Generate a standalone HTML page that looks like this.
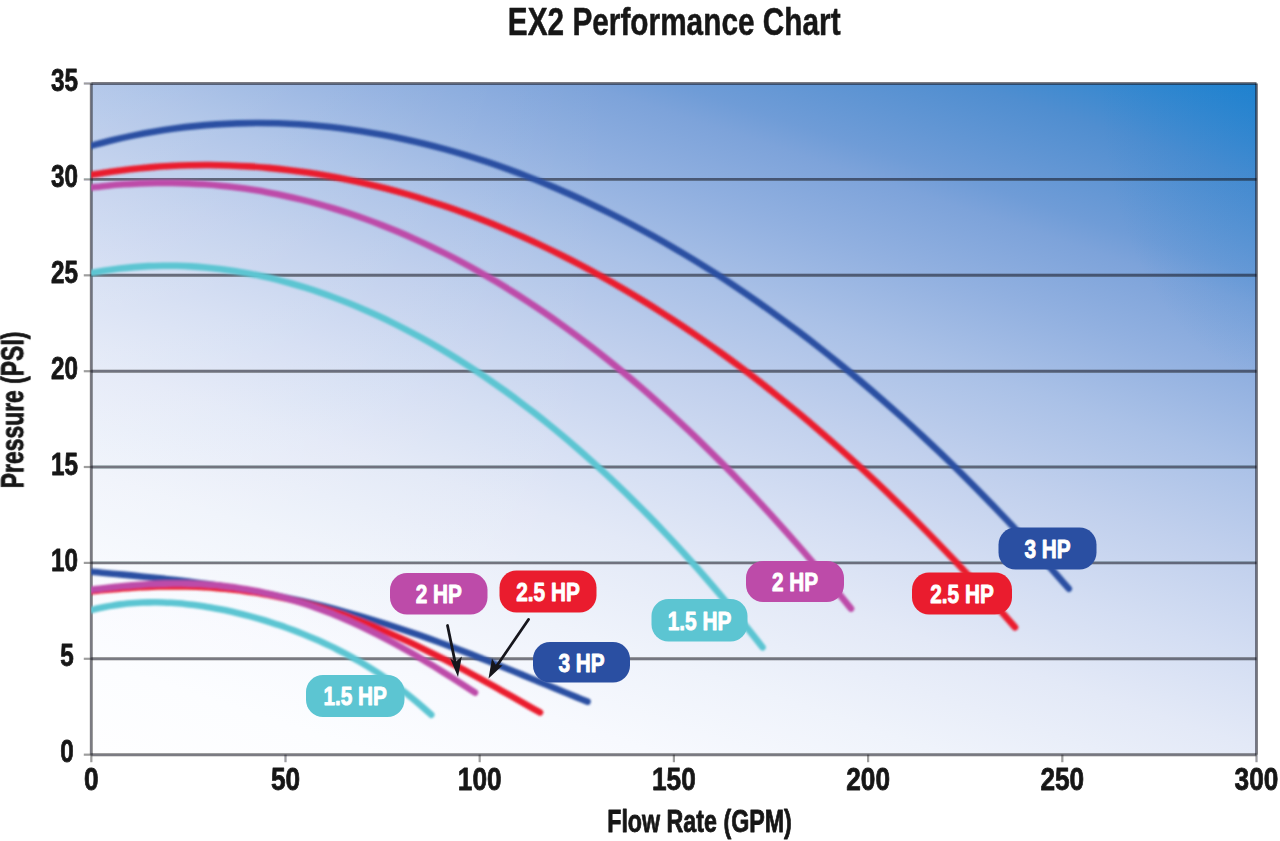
<!DOCTYPE html>
<html><head><meta charset="utf-8"><title>EX2 Performance Chart</title>
<style>html,body{margin:0;padding:0;background:#fff;}body{width:1280px;height:841px;overflow:hidden;font-family:"Liberation Sans",sans-serif;}svg{display:block;}text{font-family:"Liberation Sans",sans-serif;font-weight:bold;}</style></head><body>
<svg width="1280" height="841" viewBox="0 0 1280 841">
<defs>
<linearGradient id="gd" gradientUnits="userSpaceOnUse" x1="91.3" y1="754.7" x2="403.5" y2="-196.6"><stop offset="0.0000" stop-color="#fefeff"/><stop offset="0.0892" stop-color="#fcfdff"/><stop offset="0.1783" stop-color="#f7f9fe"/><stop offset="0.2675" stop-color="#eff3fb"/><stop offset="0.3694" stop-color="#e3e9f7"/><stop offset="0.4522" stop-color="#d4def3"/><stop offset="0.5446" stop-color="#c1d0ed"/><stop offset="0.6369" stop-color="#aac1e7"/><stop offset="0.7197" stop-color="#91b0e0"/><stop offset="0.7898" stop-color="#7da3da"/><stop offset="0.8178" stop-color="#6f9cd7"/><stop offset="0.9089" stop-color="#508ed0"/><stop offset="1.0000" stop-color="#2083cf"/></linearGradient>
<linearGradient id="gl" x1="0" y1="0" x2="1" y2="0"><stop offset="0" stop-color="#fff" stop-opacity="0.12"/><stop offset="0.45" stop-color="#fff" stop-opacity="0"/></linearGradient>
<radialGradient id="gr" gradientUnits="userSpaceOnUse" cx="1290" cy="83" r="1" gradientTransform="translate(1290,83) scale(190,300) translate(-1290,-83)"><stop offset="0" stop-color="#1a7fcf" stop-opacity="0.38"/><stop offset="1" stop-color="#1a7fcf" stop-opacity="0"/></radialGradient>
<clipPath id="cp"><rect x="91.3" y="78.5" width="1195.2" height="681.2"/></clipPath>
<filter id="soft" x="-5%" y="-5%" width="110%" height="110%"><feGaussianBlur stdDeviation="0.6"/></filter>
<filter id="soft2" x="-5%" y="-5%" width="110%" height="110%"><feGaussianBlur stdDeviation="0.85"/></filter>
</defs>
<rect width="1280" height="841" fill="#fff"/>
<rect x="91.3" y="83.5" width="1165.2" height="671.2" fill="url(#gd)"/>
<rect x="91.3" y="83.5" width="1165.2" height="671.2" fill="url(#gl)"/>
<rect x="91.3" y="83.5" width="1165.2" height="671.2" fill="url(#gr)"/>
<g stroke="#14161c" stroke-opacity="0.56" stroke-width="2.9" fill="none" filter="url(#soft)">
<line x1="91.3" y1="83.5" x2="1256.5" y2="83.5"/>
<line x1="91.3" y1="179.4" x2="1256.5" y2="179.4"/>
<line x1="91.3" y1="275.3" x2="1256.5" y2="275.3"/>
<line x1="91.3" y1="371.2" x2="1256.5" y2="371.2"/>
<line x1="91.3" y1="467.0" x2="1256.5" y2="467.0"/>
<line x1="91.3" y1="562.9" x2="1256.5" y2="562.9"/>
<line x1="91.3" y1="658.8" x2="1256.5" y2="658.8"/>
<line x1="91.3" y1="754.7" x2="1256.5" y2="754.7"/>
<line x1="91.3" y1="83.5" x2="91.3" y2="754.7"/>
<line x1="1256.5" y1="83.5" x2="1256.5" y2="754.7"/>
</g>
<g stroke="#14161c" stroke-opacity="0.42" stroke-width="2.2" fill="none" filter="url(#soft)">
<line x1="83.8" y1="83.5" x2="91.3" y2="83.5"/>
<line x1="83.8" y1="179.4" x2="91.3" y2="179.4"/>
<line x1="83.8" y1="275.3" x2="91.3" y2="275.3"/>
<line x1="83.8" y1="371.2" x2="91.3" y2="371.2"/>
<line x1="83.8" y1="467.0" x2="91.3" y2="467.0"/>
<line x1="83.8" y1="562.9" x2="91.3" y2="562.9"/>
<line x1="83.8" y1="658.8" x2="91.3" y2="658.8"/>
<line x1="83.8" y1="754.7" x2="91.3" y2="754.7"/>
<line x1="91.3" y1="754.7" x2="91.3" y2="762.2"/>
<line x1="285.5" y1="754.7" x2="285.5" y2="762.2"/>
<line x1="479.7" y1="754.7" x2="479.7" y2="762.2"/>
<line x1="673.9" y1="754.7" x2="673.9" y2="762.2"/>
<line x1="868.1" y1="754.7" x2="868.1" y2="762.2"/>
<line x1="1062.3" y1="754.7" x2="1062.3" y2="762.2"/>
<line x1="1256.5" y1="754.7" x2="1256.5" y2="762.2"/>
</g>
<g fill="none" stroke-width="6.6" stroke-linecap="round" stroke-linejoin="round" filter="url(#soft2)" clip-path="url(#cp)">
<path d="M91.30,273.06 C93.68,272.64 100.82,271.29 105.58,270.54 C110.34,269.79 115.10,269.13 119.86,268.56 C124.62,267.98 129.38,267.50 134.14,267.10 C138.90,266.71 143.66,266.40 148.42,266.17 C153.18,265.94 157.94,265.80 162.70,265.74 C167.46,265.68 172.22,265.71 176.99,265.82 C181.75,265.92 186.51,266.11 191.27,266.38 C196.03,266.65 200.79,267.00 205.55,267.43 C210.31,267.86 215.07,268.37 219.83,268.95 C224.59,269.54 229.35,270.21 234.11,270.95 C238.87,271.69 243.63,272.51 248.39,273.40 C253.15,274.29 257.91,275.26 262.67,276.31 C267.43,277.35 272.19,278.47 276.95,279.66 C281.71,280.86 286.47,282.12 291.23,283.46 C295.99,284.80 300.75,286.22 305.51,287.70 C310.27,289.19 315.03,290.75 319.79,292.38 C324.55,294.01 329.31,295.71 334.07,297.48 C338.83,299.25 343.60,301.09 348.36,303.01 C353.12,304.92 357.88,306.90 362.64,308.96 C367.40,311.01 372.16,313.14 376.92,315.33 C381.68,317.52 386.44,319.78 391.20,322.12 C395.96,324.45 400.72,326.85 405.48,329.32 C410.24,331.79 415.00,334.33 419.76,336.93 C424.52,339.54 429.28,342.22 434.04,344.96 C438.80,347.71 443.56,350.52 448.32,353.40 C453.08,356.28 457.84,359.23 462.60,362.25 C467.36,365.27 472.12,368.36 476.88,371.52 C481.64,374.67 486.40,377.90 491.16,381.19 C495.92,384.48 500.68,387.85 505.44,391.28 C510.20,394.71 514.97,398.21 519.73,401.78 C524.49,405.35 529.25,408.99 534.01,412.70 C538.77,416.41 543.53,420.19 548.29,424.04 C553.05,427.89 557.81,431.81 562.57,435.80 C567.33,439.79 572.09,443.85 576.85,447.98 C581.61,452.11 586.37,456.32 591.13,460.59 C595.89,464.87 600.65,469.22 605.41,473.64 C610.17,478.06 614.93,482.55 619.69,487.12 C624.45,491.69 629.21,496.33 633.97,501.04 C638.73,505.76 643.49,510.55 648.25,515.42 C653.01,520.28 657.77,525.22 662.53,530.24 C667.29,535.26 672.05,540.35 676.81,545.52 C681.58,550.70 686.34,555.95 691.10,561.27 C695.86,566.60 700.62,572.01 705.38,577.50 C710.14,582.99 714.90,588.55 719.66,594.20 C724.42,599.85 729.18,605.58 733.94,611.40 C738.70,617.21 743.46,623.10 748.22,629.09 C752.98,635.07 760.12,644.25 762.50,647.28" stroke="#5bc5d2"/>
<path d="M91.30,187.53 C93.99,187.23 102.08,186.23 107.46,185.69 C112.85,185.15 118.24,184.68 123.63,184.30 C129.02,183.91 134.40,183.60 139.79,183.37 C145.18,183.14 150.57,182.98 155.96,182.90 C161.34,182.83 166.73,182.83 172.12,182.90 C177.51,182.98 182.90,183.13 188.28,183.36 C193.67,183.59 199.06,183.90 204.45,184.29 C209.83,184.67 215.22,185.14 220.61,185.68 C226.00,186.22 231.39,186.84 236.77,187.53 C242.16,188.23 247.55,189.01 252.94,189.86 C258.33,190.71 263.71,191.64 269.10,192.65 C274.49,193.66 279.88,194.74 285.27,195.91 C290.65,197.07 296.04,198.32 301.43,199.64 C306.82,200.96 312.21,202.36 317.59,203.84 C322.98,205.32 328.37,206.87 333.76,208.51 C339.15,210.14 344.53,211.86 349.92,213.65 C355.31,215.44 360.70,217.31 366.09,219.26 C371.47,221.21 376.86,223.24 382.25,225.35 C387.64,227.46 393.02,229.64 398.41,231.91 C403.80,234.17 409.19,236.52 414.58,238.94 C419.96,241.36 425.35,243.86 430.74,246.44 C436.13,249.02 441.52,251.68 446.90,254.42 C452.29,257.16 457.68,259.98 463.07,262.88 C468.46,265.77 473.84,268.75 479.23,271.81 C484.62,274.86 490.01,278.00 495.40,281.21 C500.78,284.42 506.17,287.72 511.56,291.09 C516.95,294.46 522.34,297.92 527.72,301.45 C533.11,304.98 538.50,308.59 543.89,312.28 C549.28,315.97 554.66,319.74 560.05,323.59 C565.44,327.44 570.83,331.36 576.21,335.37 C581.60,339.38 586.99,343.47 592.38,347.63 C597.77,351.80 603.15,356.05 608.54,360.37 C613.93,364.70 619.32,369.10 624.71,373.59 C630.09,378.07 635.48,382.63 640.87,387.28 C646.26,391.92 651.65,396.64 657.03,401.45 C662.42,406.25 667.81,411.13 673.20,416.09 C678.59,421.05 683.97,426.09 689.36,431.21 C694.75,436.33 700.14,441.53 705.53,446.81 C710.91,452.09 716.30,457.45 721.69,462.89 C727.08,468.33 732.47,473.84 737.85,479.44 C743.24,485.04 748.63,490.71 754.02,496.47 C759.40,502.22 764.79,508.06 770.18,513.97 C775.57,519.89 780.96,525.88 786.34,531.95 C791.73,538.02 797.12,544.18 802.51,550.41 C807.90,556.64 813.28,562.95 818.67,569.34 C824.06,575.73 829.45,582.20 834.84,588.74 C840.22,595.29 848.31,605.31 851.00,608.62" stroke="#bd4ca9"/>
<path d="M91.30,174.86 C94.58,174.34 104.40,172.69 110.95,171.76 C117.50,170.83 124.06,169.99 130.61,169.25 C137.16,168.52 143.71,167.88 150.26,167.34 C156.81,166.79 163.36,166.35 169.91,166.00 C176.46,165.65 183.01,165.40 189.57,165.24 C196.12,165.08 202.67,165.02 209.22,165.05 C215.77,165.09 222.32,165.21 228.87,165.43 C235.42,165.66 241.97,165.97 248.53,166.38 C255.08,166.79 261.63,167.29 268.18,167.89 C274.73,168.49 281.28,169.17 287.83,169.96 C294.38,170.74 300.93,171.61 307.49,172.58 C314.04,173.54 320.59,174.60 327.14,175.75 C333.69,176.90 340.24,178.14 346.79,179.47 C353.34,180.80 359.89,182.22 366.44,183.73 C373.00,185.25 379.55,186.85 386.10,188.54 C392.65,190.24 399.20,192.02 405.75,193.89 C412.30,195.77 418.85,197.73 425.40,199.78 C431.96,201.84 438.51,203.98 445.06,206.21 C451.61,208.44 458.16,210.77 464.71,213.18 C471.26,215.59 477.81,218.09 484.36,220.68 C490.91,223.26 497.47,225.94 504.02,228.71 C510.57,231.48 517.12,234.33 523.67,237.28 C530.22,240.22 536.77,243.25 543.32,246.38 C549.87,249.50 556.43,252.71 562.98,256.01 C569.53,259.31 576.08,262.70 582.63,266.17 C589.18,269.65 595.73,273.22 602.28,276.87 C608.83,280.53 615.39,284.27 621.94,288.10 C628.49,291.93 635.04,295.86 641.59,299.87 C648.14,303.88 654.69,307.98 661.24,312.17 C667.79,316.35 674.34,320.63 680.90,325.00 C687.45,329.37 694.00,333.82 700.55,338.37 C707.10,342.92 713.65,347.55 720.20,352.28 C726.75,357.01 733.30,361.82 739.86,366.73 C746.41,371.63 752.96,376.63 759.51,381.72 C766.06,386.81 772.61,391.98 779.16,397.25 C785.71,402.52 792.26,407.88 798.81,413.34 C805.37,418.79 811.92,424.33 818.47,429.97 C825.02,435.60 831.57,441.33 838.12,447.15 C844.67,452.97 851.22,458.88 857.77,464.89 C864.33,470.89 870.88,476.99 877.43,483.18 C883.98,489.38 890.53,495.66 897.08,502.04 C903.63,508.42 910.18,514.90 916.73,521.47 C923.29,528.04 929.84,534.70 936.39,541.46 C942.94,548.22 949.49,555.07 956.04,562.03 C962.59,568.98 969.14,576.03 975.69,583.17 C982.24,590.32 988.80,597.56 995.35,604.90 C1001.90,612.25 1011.72,623.50 1015.00,627.22" stroke="#ea1f2d"/>
<path d="M91.30,145.65 C94.77,144.75 105.16,141.93 112.10,140.26 C119.03,138.59 125.96,137.04 132.89,135.62 C139.83,134.20 146.76,132.90 153.69,131.73 C160.62,130.55 167.55,129.50 174.49,128.57 C181.42,127.64 188.35,126.82 195.28,126.13 C202.22,125.43 209.15,124.86 216.08,124.40 C223.01,123.93 229.95,123.59 236.88,123.36 C243.81,123.13 250.74,123.01 257.67,123.00 C264.61,123.00 271.54,123.11 278.47,123.32 C285.40,123.54 292.34,123.87 299.27,124.31 C306.20,124.75 313.13,125.30 320.06,125.95 C327.00,126.61 333.93,127.37 340.86,128.24 C347.79,129.11 354.73,130.08 361.66,131.16 C368.59,132.24 375.52,133.43 382.46,134.72 C389.39,136.01 396.32,137.40 403.25,138.90 C410.18,140.40 417.12,142.00 424.05,143.70 C430.98,145.40 437.91,147.20 444.85,149.10 C451.78,151.01 458.71,153.01 465.64,155.12 C472.57,157.22 479.51,159.43 486.44,161.73 C493.37,164.04 500.30,166.44 507.24,168.95 C514.17,171.45 521.10,174.05 528.03,176.75 C534.97,179.45 541.90,182.25 548.83,185.15 C555.76,188.04 562.69,191.04 569.63,194.13 C576.56,197.22 583.49,200.41 590.42,203.69 C597.36,206.98 604.29,210.36 611.22,213.85 C618.15,217.33 625.08,220.90 632.02,224.58 C638.95,228.25 645.88,232.02 652.81,235.89 C659.75,239.76 666.68,243.73 673.61,247.79 C680.54,251.85 687.48,256.01 694.41,260.27 C701.34,264.53 708.27,268.88 715.20,273.34 C722.14,277.79 729.07,282.34 736.00,286.99 C742.93,291.63 749.87,296.38 756.80,301.22 C763.73,306.07 770.66,311.01 777.59,316.05 C784.53,321.10 791.46,326.24 798.39,331.48 C805.32,336.72 812.26,342.06 819.19,347.50 C826.12,352.94 833.05,358.48 839.99,364.13 C846.92,369.77 853.85,375.51 860.78,381.36 C867.71,387.21 874.65,393.15 881.58,399.21 C888.51,405.26 895.44,411.41 902.38,417.67 C909.31,423.93 916.24,430.30 923.17,436.77 C930.10,443.24 937.04,449.81 943.97,456.49 C950.90,463.18 957.83,469.97 964.77,476.86 C971.70,483.76 978.63,490.77 985.56,497.88 C992.50,505.00 999.43,512.23 1006.36,519.56 C1013.29,526.90 1020.22,534.35 1027.16,541.91 C1034.09,549.47 1041.02,557.15 1047.95,564.94 C1054.89,572.73 1065.28,584.70 1068.75,588.65" stroke="#2c4fa2"/>
<path d="M91.30,610.17 C92.51,609.87 96.12,608.90 98.53,608.33 C100.94,607.77 103.35,607.25 105.77,606.77 C108.18,606.29 110.59,605.85 113.00,605.45 C115.41,605.06 117.82,604.70 120.23,604.39 C122.64,604.07 125.05,603.79 127.46,603.55 C129.88,603.31 132.29,603.11 134.70,602.94 C137.11,602.77 139.52,602.63 141.93,602.53 C144.34,602.43 146.75,602.36 149.16,602.33 C151.57,602.29 153.99,602.29 156.40,602.31 C158.81,602.34 161.22,602.40 163.63,602.48 C166.04,602.57 168.45,602.68 170.86,602.82 C173.27,602.97 175.68,603.14 178.10,603.33 C180.51,603.53 182.92,603.75 185.33,604.00 C187.74,604.25 190.15,604.52 192.56,604.82 C194.97,605.12 197.38,605.44 199.79,605.79 C202.21,606.14 204.62,606.51 207.03,606.90 C209.44,607.29 211.85,607.71 214.26,608.15 C216.67,608.59 219.08,609.05 221.49,609.53 C223.90,610.02 226.32,610.52 228.73,611.05 C231.14,611.57 233.55,612.12 235.96,612.69 C238.37,613.26 240.78,613.85 243.19,614.46 C245.60,615.08 248.01,615.71 250.43,616.36 C252.84,617.01 255.25,617.69 257.66,618.38 C260.07,619.08 262.48,619.80 264.89,620.53 C267.30,621.27 269.71,622.03 272.12,622.81 C274.54,623.59 276.95,624.39 279.36,625.22 C281.77,626.04 284.18,626.88 286.59,627.75 C289.00,628.62 291.41,629.51 293.82,630.42 C296.23,631.33 298.65,632.26 301.06,633.22 C303.47,634.18 305.88,635.16 308.29,636.17 C310.70,637.17 313.11,638.20 315.52,639.26 C317.93,640.31 320.34,641.39 322.76,642.50 C325.17,643.61 327.58,644.74 329.99,645.90 C332.40,647.06 334.81,648.24 337.22,649.46 C339.63,650.67 342.04,651.92 344.45,653.19 C346.87,654.46 349.28,655.76 351.69,657.10 C354.10,658.43 356.51,659.80 358.92,661.19 C361.33,662.59 363.74,664.02 366.15,665.49 C368.56,666.95 370.98,668.45 373.39,669.98 C375.80,671.52 378.21,673.09 380.62,674.70 C383.03,676.31 385.44,677.95 387.85,679.64 C390.26,681.33 392.67,683.05 395.09,684.82 C397.50,686.59 399.91,688.40 402.32,690.25 C404.73,692.11 407.14,694.00 409.55,695.95 C411.96,697.89 414.37,699.88 416.78,701.92 C419.20,703.96 421.61,706.05 424.02,708.19 C426.43,710.33 430.04,713.67 431.25,714.77" stroke="#5bc5d2"/>
<path d="M91.30,571.71 C93.06,571.88 98.34,572.37 101.86,572.69 C105.38,573.02 108.90,573.34 112.41,573.67 C115.93,574.00 119.45,574.32 122.97,574.66 C126.49,574.99 130.01,575.32 133.53,575.66 C137.05,576.00 140.57,576.35 144.09,576.70 C147.61,577.06 151.13,577.41 154.64,577.78 C158.16,578.15 161.68,578.53 165.20,578.91 C168.72,579.30 172.24,579.69 175.76,580.10 C179.28,580.51 182.80,580.92 186.32,581.35 C189.84,581.78 193.36,582.23 196.87,582.68 C200.39,583.14 203.91,583.61 207.43,584.09 C210.95,584.57 214.47,585.07 217.99,585.59 C221.51,586.10 225.03,586.63 228.55,587.17 C232.07,587.72 235.59,588.28 239.10,588.86 C242.62,589.44 246.14,590.03 249.66,590.65 C253.18,591.26 256.70,591.89 260.22,592.54 C263.74,593.19 267.26,593.86 270.78,594.55 C274.30,595.24 277.81,595.94 281.33,596.67 C284.85,597.39 288.37,598.14 291.89,598.90 C295.41,599.67 298.93,600.45 302.45,601.26 C305.97,602.06 309.49,602.89 313.01,603.73 C316.53,604.57 320.04,605.44 323.56,606.32 C327.08,607.21 330.60,608.11 334.12,609.04 C337.64,609.96 341.16,610.91 344.68,611.87 C348.20,612.83 351.72,613.82 355.24,614.82 C358.76,615.83 362.27,616.85 365.79,617.90 C369.31,618.94 372.83,620.00 376.35,621.08 C379.87,622.17 383.39,623.27 386.91,624.39 C390.43,625.51 393.95,626.64 397.47,627.80 C400.99,628.96 404.50,630.13 408.02,631.32 C411.54,632.51 415.06,633.72 418.58,634.95 C422.10,636.17 425.62,637.41 429.14,638.67 C432.66,639.93 436.18,641.20 439.70,642.49 C443.21,643.78 446.73,645.08 450.25,646.39 C453.77,647.71 457.29,649.04 460.81,650.38 C464.33,651.72 467.85,653.08 471.37,654.45 C474.89,655.81 478.41,657.19 481.93,658.58 C485.44,659.96 488.96,661.36 492.48,662.77 C496.00,664.18 499.52,665.59 503.04,667.01 C506.56,668.43 510.08,669.86 513.60,671.30 C517.12,672.73 520.64,674.18 524.16,675.62 C527.67,677.06 531.19,678.51 534.71,679.96 C538.23,681.41 541.75,682.87 545.27,684.32 C548.79,685.77 552.31,687.22 555.83,688.67 C559.35,690.13 562.87,691.58 566.39,693.02 C569.90,694.47 573.42,695.91 576.94,697.35 C580.46,698.78 585.74,700.92 587.50,701.64" stroke="#2c4fa2"/>
<path d="M91.30,591.30 C92.89,591.14 97.66,590.63 100.85,590.31 C104.03,590.00 107.21,589.69 110.39,589.41 C113.58,589.12 116.76,588.85 119.94,588.60 C123.12,588.35 126.30,588.11 129.49,587.90 C132.67,587.68 135.85,587.49 139.03,587.31 C142.22,587.14 145.40,586.99 148.58,586.86 C151.76,586.73 154.95,586.62 158.13,586.53 C161.31,586.45 164.49,586.39 167.67,586.36 C170.86,586.32 174.04,586.32 177.22,586.33 C180.40,586.35 183.59,586.40 186.77,586.47 C189.95,586.54 193.13,586.64 196.31,586.77 C199.50,586.90 202.68,587.05 205.86,587.24 C209.04,587.43 212.23,587.64 215.41,587.89 C218.59,588.14 221.77,588.41 224.96,588.72 C228.14,589.03 231.32,589.37 234.50,589.74 C237.68,590.11 240.87,590.51 244.05,590.95 C247.23,591.38 250.41,591.85 253.60,592.34 C256.78,592.84 259.96,593.37 263.14,593.94 C266.32,594.50 269.51,595.10 272.69,595.73 C275.87,596.36 279.05,597.02 282.24,597.71 C285.42,598.41 288.60,599.13 291.78,599.89 C294.97,600.66 298.15,601.45 301.33,602.27 C304.51,603.10 307.69,603.96 310.88,604.85 C314.06,605.74 317.24,606.67 320.42,607.62 C323.61,608.58 326.79,609.57 329.97,610.59 C333.15,611.61 336.33,612.66 339.52,613.74 C342.70,614.82 345.88,615.94 349.06,617.08 C352.25,618.22 355.43,619.40 358.61,620.60 C361.79,621.81 364.98,623.04 368.16,624.30 C371.34,625.56 374.52,626.86 377.70,628.18 C380.89,629.50 384.07,630.84 387.25,632.22 C390.43,633.59 393.62,634.99 396.80,636.42 C399.98,637.84 403.16,639.30 406.34,640.77 C409.53,642.25 412.71,643.75 415.89,645.27 C419.07,646.80 422.26,648.34 425.44,649.91 C428.62,651.48 431.80,653.07 434.99,654.68 C438.17,656.29 441.35,657.92 444.53,659.56 C447.71,661.21 450.90,662.88 454.08,664.56 C457.26,666.24 460.44,667.94 463.63,669.65 C466.81,671.36 469.99,673.09 473.17,674.83 C476.35,676.57 479.54,678.33 482.72,680.09 C485.90,681.85 489.08,683.62 492.27,685.40 C495.45,687.19 498.63,688.98 501.81,690.77 C505.00,692.57 508.18,694.37 511.36,696.17 C514.54,697.98 517.72,699.79 520.91,701.60 C524.09,703.41 527.27,705.22 530.45,707.03 C533.64,708.83 538.41,711.54 540.00,712.44" stroke="#ea1f2d"/>
<path d="M91.30,589.71 C92.66,589.54 96.74,589.02 99.46,588.69 C102.19,588.36 104.91,588.04 107.63,587.74 C110.35,587.43 113.07,587.13 115.79,586.85 C118.51,586.57 121.23,586.30 123.96,586.05 C126.68,585.80 129.40,585.56 132.12,585.34 C134.84,585.12 137.56,584.92 140.28,584.73 C143.00,584.55 145.73,584.38 148.45,584.24 C151.17,584.09 153.89,583.96 156.61,583.86 C159.33,583.75 162.05,583.67 164.77,583.60 C167.50,583.54 170.22,583.50 172.94,583.48 C175.66,583.47 178.38,583.47 181.10,583.50 C183.82,583.53 186.54,583.58 189.27,583.66 C191.99,583.74 194.71,583.85 197.43,583.98 C200.15,584.11 202.87,584.26 205.59,584.45 C208.31,584.63 211.04,584.84 213.76,585.08 C216.48,585.31 219.20,585.58 221.92,585.87 C224.64,586.16 227.36,586.48 230.09,586.83 C232.81,587.18 235.53,587.56 238.25,587.97 C240.97,588.38 243.69,588.81 246.41,589.28 C249.13,589.74 251.86,590.24 254.58,590.76 C257.30,591.29 260.02,591.84 262.74,592.42 C265.46,593.01 268.18,593.62 270.90,594.27 C273.63,594.91 276.35,595.58 279.07,596.29 C281.79,596.99 284.51,597.73 287.23,598.49 C289.95,599.26 292.67,600.05 295.40,600.88 C298.12,601.70 300.84,602.55 303.56,603.44 C306.28,604.32 309.00,605.24 311.72,606.18 C314.44,607.12 317.17,608.10 319.89,609.10 C322.61,610.10 325.33,611.13 328.05,612.19 C330.77,613.25 333.49,614.34 336.21,615.46 C338.94,616.58 341.66,617.72 344.38,618.90 C347.10,620.07 349.82,621.27 352.54,622.50 C355.26,623.73 357.99,624.98 360.71,626.26 C363.43,627.54 366.15,628.85 368.87,630.18 C371.59,631.52 374.31,632.87 377.03,634.26 C379.76,635.64 382.48,637.05 385.20,638.48 C387.92,639.91 390.64,641.36 393.36,642.84 C396.08,644.32 398.80,645.82 401.53,647.34 C404.25,648.86 406.97,650.40 409.69,651.96 C412.41,653.52 415.13,655.11 417.85,656.71 C420.57,658.31 423.30,659.93 426.02,661.57 C428.74,663.20 431.46,664.86 434.18,666.53 C436.90,668.20 439.62,669.89 442.34,671.59 C445.07,673.29 447.79,675.01 450.51,676.73 C453.23,678.46 455.95,680.20 458.67,681.96 C461.39,683.71 464.11,685.47 466.84,687.24 C469.56,689.02 473.64,691.70 475.00,692.59" stroke="#bd4ca9"/>
</g>
<g stroke="#15151c" stroke-width="2.8" fill="#15151c" stroke-linecap="round" filter="url(#soft)">
<line x1="447.5" y1="625.5" x2="455.5" y2="664"/><polygon points="458,677 450.2,658.5 455.5,662 461.8,656.5" stroke="none"/>
<line x1="528.5" y1="619.5" x2="496" y2="667"/><polygon points="488.5,678.5 492,658.5 495.5,664.5 502.5,665.5" stroke="none"/>
</g>
<g filter="url(#soft)">
<rect x="651.5" y="599.0" width="96.0" height="42.5" rx="17" ry="17" fill="#5bc5d2"/>
<rect x="746.0" y="561.0" width="98.0" height="41.0" rx="17" ry="17" fill="#bd4ca9"/>
<rect x="912.0" y="572.5" width="100.0" height="42.0" rx="17" ry="17" fill="#ea1f2d"/>
<rect x="998.5" y="527.5" width="98.0" height="42.0" rx="17" ry="17" fill="#2c4fa2"/>
<rect x="306.0" y="675.0" width="98.5" height="42.0" rx="17" ry="17" fill="#5bc5d2"/>
<rect x="390.0" y="573.0" width="97.5" height="41.5" rx="17" ry="17" fill="#bd4ca9"/>
<rect x="499.5" y="570.5" width="97.0" height="42.0" rx="17" ry="17" fill="#ea1f2d"/>
<rect x="533.0" y="642.0" width="97.0" height="40.5" rx="17" ry="17" fill="#2c4fa2"/>
</g>
<text transform="translate(699.5,629.5) scale(0.800,1)" text-anchor="middle" font-size="26" fill="#fff" stroke="#fff" stroke-width="0.9" stroke-linejoin="round">1.5 HP</text>
<text transform="translate(795.0,590.8) scale(0.800,1)" text-anchor="middle" font-size="26" fill="#fff" stroke="#fff" stroke-width="0.9" stroke-linejoin="round">2 HP</text>
<text transform="translate(962.0,602.8) scale(0.800,1)" text-anchor="middle" font-size="26" fill="#fff" stroke="#fff" stroke-width="0.9" stroke-linejoin="round">2.5 HP</text>
<text transform="translate(1047.5,557.8) scale(0.800,1)" text-anchor="middle" font-size="26" fill="#fff" stroke="#fff" stroke-width="0.9" stroke-linejoin="round">3 HP</text>
<text transform="translate(355.2,705.3) scale(0.800,1)" text-anchor="middle" font-size="26" fill="#fff" stroke="#fff" stroke-width="0.9" stroke-linejoin="round">1.5 HP</text>
<text transform="translate(438.8,603.0) scale(0.800,1)" text-anchor="middle" font-size="26" fill="#fff" stroke="#fff" stroke-width="0.9" stroke-linejoin="round">2 HP</text>
<text transform="translate(548.0,600.8) scale(0.800,1)" text-anchor="middle" font-size="26" fill="#fff" stroke="#fff" stroke-width="0.9" stroke-linejoin="round">2.5 HP</text>
<text transform="translate(581.5,671.5) scale(0.800,1)" text-anchor="middle" font-size="26" fill="#fff" stroke="#fff" stroke-width="0.9" stroke-linejoin="round">3 HP</text>
<g fill="#161616" stroke="#161616" stroke-width="0.8" stroke-linejoin="round" filter="url(#soft)">
<text transform="translate(78.0,91.1) scale(0.770,1)" text-anchor="end" font-size="31.5">35</text>
<text transform="translate(78.0,187.0) scale(0.770,1)" text-anchor="end" font-size="31.5">30</text>
<text transform="translate(78.0,282.9) scale(0.770,1)" text-anchor="end" font-size="31.5">25</text>
<text transform="translate(78.0,378.8) scale(0.770,1)" text-anchor="end" font-size="31.5">20</text>
<text transform="translate(78.0,474.6) scale(0.770,1)" text-anchor="end" font-size="31.5">15</text>
<text transform="translate(78.0,570.5) scale(0.770,1)" text-anchor="end" font-size="31.5">10</text>
<text transform="translate(73.8,666.4) scale(0.770,1)" text-anchor="end" font-size="31.5">5</text>
<text transform="translate(73.8,762.3) scale(0.770,1)" text-anchor="end" font-size="31.5">0</text>
<text transform="translate(91.3,789.9) scale(0.820,1)" text-anchor="middle" font-size="32">0</text>
<text transform="translate(285.5,789.9) scale(0.820,1)" text-anchor="middle" font-size="32">50</text>
<text transform="translate(479.7,789.9) scale(0.820,1)" text-anchor="middle" font-size="32">100</text>
<text transform="translate(673.9,789.9) scale(0.820,1)" text-anchor="middle" font-size="32">150</text>
<text transform="translate(868.1,789.9) scale(0.820,1)" text-anchor="middle" font-size="32">200</text>
<text transform="translate(1062.3,789.9) scale(0.820,1)" text-anchor="middle" font-size="32">250</text>
<text transform="translate(1256.5,789.9) scale(0.820,1)" text-anchor="middle" font-size="32">300</text>
<text transform="translate(674.2,35.3) scale(0.774,1)" text-anchor="middle" font-size="38.5" stroke-width="0.5">EX2 Performance Chart</text>
<text transform="translate(699.5,832.2) scale(0.750,1)" text-anchor="middle" font-size="31">Flow Rate (GPM)</text>
<text transform="translate(23.3,410) rotate(-90) scale(0.739,1)" text-anchor="middle" font-size="31">Pressure (PSI)</text>
</g>
</svg></body></html>
